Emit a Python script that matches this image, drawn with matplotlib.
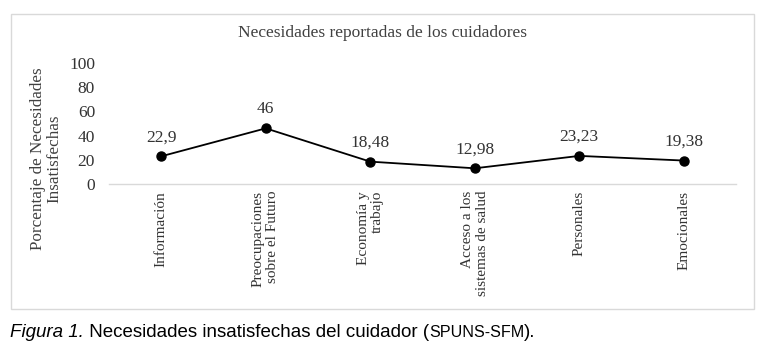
import matplotlib
matplotlib.use("Agg")
import matplotlib.pyplot as plt
from matplotlib.patches import Rectangle

categories = ["Información", "Preocupaciones\nsobre el Futuro", "Economía y\ntrabajo",
              "Acceso a los\nsistemas de salud", "Personales", "Emocionales"]
values = [22.9, 46, 18.48, 12.98, 23.23, 19.38]
value_labels = ["22,9", "46", "18,48", "12,98", "23,23", "19,38"]
yticks = [0, 20, 40, 60, 80, 100]

W, H = 767, 354
fig = plt.figure(figsize=(W / 100, H / 100), dpi=100)

def fx(px):
    return px / W

def fy(py):
    return 1 - py / H

# outer chart border
fig.patches.append(Rectangle((fx(10.5), fy(309)), fx(754) - fx(10.5), fy(13.5) - fy(309),
                             transform=fig.transFigure, fill=False, edgecolor="#d9d9d9",
                             linewidth=1.0))

ax = fig.add_axes([fx(109), fy(184), fx(736) - fx(109), fy(63) - fy(184)])
x = list(range(len(categories)))
ax.plot(x, values, color="black", linewidth=1.3, marker="o", markersize=6.5,
        markerfacecolor="black", markeredgecolor="black", zorder=3)
for xi, v, lab in zip(x, values, value_labels):
    ax.annotate(lab, (xi, v), xytext=(0, 8), textcoords="offset points",
                ha="center", va="bottom", fontsize=12.5, family="Liberation Serif",
                color="#333333")

ax.set_xlim(-0.5, len(categories) - 0.5)
ax.set_ylim(0, 100)
ax.set_yticks(yticks)
ax.set_yticklabels([str(t) for t in yticks], family="Liberation Serif", fontsize=12.5,
                   color="#333333")
ax.tick_params(axis="y", length=0, pad=10)
ax.set_xticks(x)
ax.set_xticklabels(categories, rotation=90, ha="center", va="top", multialignment="right",
                   family="Liberation Serif", fontsize=11, color="#333333",
                   linespacing=1.15)
ax.tick_params(axis="x", length=0, pad=5)
for s in ["top", "right", "left"]:
    ax.spines[s].set_visible(False)
ax.spines["bottom"].set_color("#d9d9d9")
ax.spines["bottom"].set_linewidth(1.0)
ax.patch.set_alpha(0)

fig.text(fx(46.5), fy(159), "Porcentaje de Necesidades\nInsatisfechas", rotation=90,
         ha="center", va="center", multialignment="center", family="Liberation Serif",
         fontsize=12.3, color="#404040", linespacing=1.0)
fig.text(fx(383), fy(33), "Necesidades reportadas de los cuidadores", ha="center",
         va="center", family="Liberation Serif", fontsize=12.5, color="#404040")

# caption
fig.canvas.draw()
r = fig.canvas.get_renderer()
parts = [("Figura 1.", dict(style="italic", fontsize=13.5)),
         (" Necesidades insatisfechas del cuidador (", dict(fontsize=13.5)),
         ("SPUNS-SFM", dict(fontsize=11.6)),
         (").", dict(fontsize=13.5))]
xpos = 10
for txt, kw in parts:
    t = fig.text(fx(xpos), fy(337), txt, ha="left", va="baseline",
                 family="Liberation Sans", color="black", **kw)
    bb = t.get_window_extent(renderer=r)
    xpos += bb.width

fig.savefig("out.png", dpi=100)
